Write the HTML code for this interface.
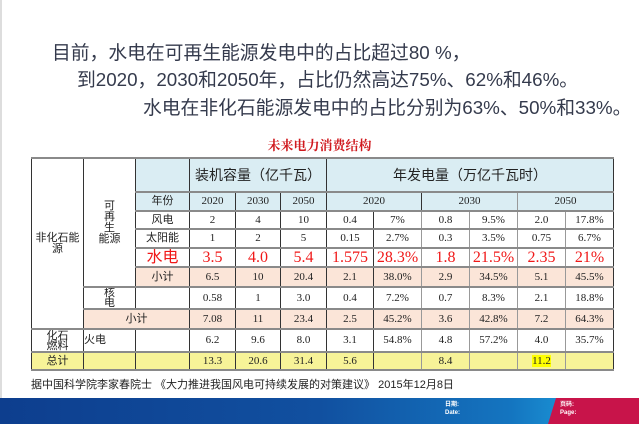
<!DOCTYPE html>
<html><head><meta charset="utf-8"><style>
*{margin:0;padding:0;box-sizing:border-box}
body{width:639px;height:424px;overflow:hidden;background:#fff;position:relative;font-family:"Liberation Sans","Noto Sans CJK SC",sans-serif}
.h{position:absolute;font-size:18.8px;color:#343a4c;white-space:nowrap;line-height:22px}
.t{position:absolute;left:0;width:639px;text-align:center;top:135px;font-size:13px;font-weight:bold;color:#d0191e;font-family:"Liberation Serif","Noto Serif CJK SC",serif}
table{position:absolute;left:31px;top:157px;border-collapse:collapse;table-layout:fixed;font-family:"Liberation Serif","Noto Sans CJK SC",serif;font-size:11px;color:#222}
td{border:1px solid #333;text-align:center;vertical-align:middle;padding:0;line-height:11px;border-top:2px solid #8a8a8a;border-bottom:2px solid #8a8a8a;overflow:hidden}
.s{font-family:'Liberation Sans','Noto Sans CJK SC',sans-serif}
.b{background:#daedf3}
.p{background:#fbe5d8}
.y{background:#f7f398}
.r{color:#f01818;font-size:16px;line-height:14px}
.g{border-left:1px solid #999;border-right:1px solid #999}
.foot{position:absolute;left:31px;top:376px;font-size:11px;color:#222;font-family:"Liberation Sans","Noto Sans CJK SC",sans-serif}
.bar{position:absolute;left:0;top:398px;width:639px;height:26px;background:linear-gradient(90deg,#0d3e8e 0%,#1150a0 50%,#1475c0 80%,#1a8fd2 88%)}
.red{position:absolute;left:548px;top:398px;width:91px;height:26px;background:#c8144a;clip-path:polygon(8px 0,100% 0,100% 100%,0 100%)}
.lb{position:absolute;color:#fff;font-size:6px;font-weight:bold;line-height:8px}
</style></head><body>
<div style="position:absolute;left:0;top:0;width:2px;height:398px;background:#ddd"></div>
<div class="h" style="left:52px;top:42px">目前，水电在可再生能源发电中的占比超过80 %，</div>
<div class="h" style="left:77px;top:69px">到2020，2030和2050年，占比仍然高达75%、62%和46%。</div>
<div class="h" style="left:143px;top:97px">水电在非化石能源发电中的占比分别为63%、50%和33%。</div>
<div class="t">未来电力消费结构</div>
<table>
<colgroup><col style="width:52px"><col style="width:52px"><col style="width:54px"><col style="width:46px"><col style="width:45px"><col style="width:46px"><col style="width:47px"><col style="width:48px"><col style="width:48px"><col style="width:48px"><col style="width:48px"><col style="width:48px"></colgroup>
<tr style="height:34px"><td rowspan="8" class="s">非化石能<br>源</td><td rowspan="6" class="s">可<br>再<br>生<br>能源</td><td class="b"></td><td class="b s" colspan="3" style="font-size:14px">装机容量（亿千瓦）</td><td class="b s" colspan="6" style="font-size:14px">年发电量（万亿千瓦时）</td></tr>
<tr style="height:19px"><td class="b">年份</td><td class="b">2020</td><td class="b">2030</td><td class="b">2050</td><td class="b" colspan="2">2020</td><td class="b g" colspan="2">2030</td><td class="b" colspan="2">2050</td></tr>
<tr style="height:18px"><td>风电</td><td>2</td><td>4</td><td>10</td><td>0.4</td><td class="g">7%</td><td class="g">0.8</td><td class="g">9.5%</td><td class="g">2.0</td><td>17.8%</td></tr>
<tr style="height:19px"><td>太阳能</td><td>1</td><td>2</td><td>5</td><td>0.15</td><td class="g">2.7%</td><td class="g">0.3</td><td class="g">3.5%</td><td class="g">0.75</td><td>6.7%</td></tr>
<tr style="height:19px"><td class="r s">水电</td><td class="r">3.5</td><td class="r">4.0</td><td class="r">5.4</td><td class="r">1.575</td><td class="r g">28.3%</td><td class="r g">1.8</td><td class="r g">21.5%</td><td class="r g">2.35</td><td class="r">21%</td></tr>
<tr style="height:20px" class="p"><td>小计</td><td>6.5</td><td>10</td><td>20.4</td><td>2.1</td><td class="g">38.0%</td><td class="g">2.9</td><td class="g">34.5%</td><td class="g">5.1</td><td>45.5%</td></tr>
<tr style="height:20px"><td style="line-height:10px">核<br>电</td><td></td><td>0.58</td><td>1</td><td>3.0</td><td>0.4</td><td class="g">7.2%</td><td class="g">0.7</td><td class="g">8.3%</td><td class="g">2.1</td><td>18.8%</td></tr>
<tr style="height:20px" class="p"><td colspan="2">小计</td><td>7.08</td><td>11</td><td>23.4</td><td>2.5</td><td class="g">45.2%</td><td class="g">3.6</td><td class="g">42.8%</td><td class="g">7.2</td><td>64.3%</td></tr>
<tr style="height:23px"><td style="line-height:10px">化石<br>燃料</td><td style="text-align:left">火电</td><td></td><td>6.2</td><td>9.6</td><td>8.0</td><td>3.1</td><td class="g">54.8%</td><td class="g">4.8</td><td class="g">57.2%</td><td class="g">4.0</td><td>35.7%</td></tr>
<tr style="height:18px" class="y"><td>总计</td><td></td><td></td><td>13.3</td><td>20.6</td><td>31.4</td><td>5.6</td><td class="g"></td><td class="g">8.4</td><td class="g"></td><td class="g"><span style="background:#ffff00">11.2</span></td><td></td></tr>
</table>
<div class="foot">据中国科学院李家春院士 《大力推进我国风电可持续发展的对策建议》 2015年12月8日</div>
<div class="bar"></div>
<div class="red"></div>
<div class="lb" style="left:445px;top:401px">日期:<br>Date:</div>
<div class="lb" style="left:560px;top:401px">页码:<br>Page:</div>
</body></html>
